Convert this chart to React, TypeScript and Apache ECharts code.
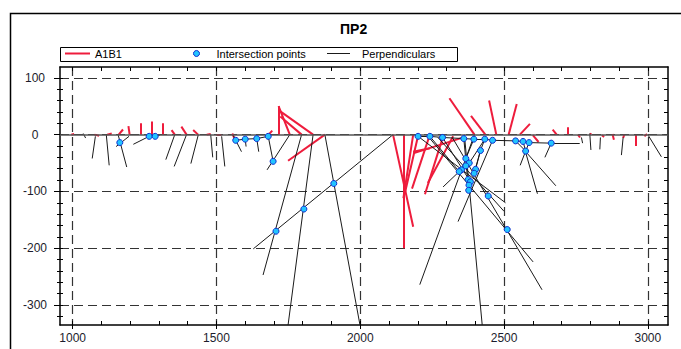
import React, { useEffect, useRef } from "react";
import * as echarts from "echarts";

const titleText = "ПР2";
const seriesNames = ["A1B1", "Intersection points", "Perpendiculars"];

const xMajorTicks = [1000, 1500, 2000, 2500, 3000];
const xMinorTicks = [1000, 1100, 1200, 1300, 1400, 1500, 1600, 1700, 1800, 1900, 2000, 2100, 2200, 2300, 2400, 2500, 2600, 2700, 2800, 2900, 3000];
const yMajorTicks = [-300, -200, -100, 0, 100];
const yMinorTicks = [-320, -300, -280, -260, -240, -220, -200, -180, -160, -140, -120, -100, -80, -60, -40, -20, 0, 20, 40, 60, 80, 100];

// A1B1 segments: [x1, y1, x2, y2]
const redSegments = [
  [995, 0, 1005, 1],
  [1076, 0, 1092, -2],
  [1120, 0, 1136, 2],
  [1160, 0, 1175, 9],
  [1198, 0, 1194, 15],
  [1237, 0, 1237, 20],
  [1274, 0, 1274, 23],
  [1312, 0, 1312, 20],
  [1355, 0, 1344, 8],
  [1396, 0, 1378, 14],
  [1436, 0, 1419, 8],
  [1466, 0, 1480, 1],
  [1500, -1, 1517, -1],
  [1555, 2, 1562, -6],
  [1676, -3, 1694, 7],
  [1716, 0, 1716, 50],
  [1716, 50, 1755, 0],
  [1716, 43, 1836, 0],
  [1722, 32, 1796, 0],
  [1749, -46, 1877, 0],
  [2114, 0, 2184, -162],
  [2150, 0, 2150, -200],
  [2184, 0, 2150, -112],
  [2201, -2, 2155, -103],
  [2242, 0, 2180, -95],
  [2290, 0, 2225, -105],
  [2323, -3, 2235, -85],
  [2184, -33, 2364, -4],
  [2184, -30, 2242, -24],
  [2310, 64, 2397, 0],
  [2385, 33, 2435, 0],
  [2448, 60, 2473, 0],
  [2544, 54, 2516, 0],
  [2590, 19, 2555, 0],
  [2600, -1, 2620, -13],
  [2669, 9, 2683, 0],
  [2720, 13, 2720, 0],
  [2757, 0, 2764, -5],
  [2798, 2, 2804, 0],
  [2840, -1, 2848, -4],
  [2877, 1, 2882, -9],
  [2918, 0, 2914, -6],
  [2957, 0, 2957, -20],
  [2988, -3, 2997, 1],
];

// Perpendicular segments: [x1, y1, x2, y2]
const blackSegments = [
  [1037, 2, 1045, -6],
  [1079, -3, 1068, -42],
  [1117, 0, 1127, -54],
  [1196, -3, 1151, -21],
  [1158, 0, 1188, -57],
  [1211, -17, 1266, -3],
  [1266, -3, 1303, -1],
  [1355, 0, 1324, -44],
  [1396, 0, 1353, -56],
  [1437, 0, 1411, -51],
  [1480, 0, 1487, -40],
  [1518, -3, 1529, -56],
  [1558, -1, 1587, -30],
  [1567, -10, 1600, -8],
  [1600, -8, 1640, -7],
  [1640, -7, 1680, -3],
  [1600, -8, 1603, -21],
  [1640, -7, 1647, -30],
  [1680, -3, 1697, -47],
  [1755, 0, 1676, -62],
  [1796, 0, 1662, -247],
  [1836, 0, 1749, -335],
  [1877, 0, 1999, -335],
  [2114, 0, 1628, -201],
  [2201, -3, 2242, -3],
  [2242, -3, 2286, -5],
  [2286, -5, 2360, -7],
  [2360, -7, 2395, -8],
  [2395, -8, 2433, -8],
  [2433, -8, 2460, -10],
  [2460, -10, 2540, -11],
  [2540, -11, 2566, -12],
  [2566, -12, 2587, -14],
  [2587, -14, 2664, -15],
  [2664, -15, 2763, -15],
  [2201, -3, 2505, -120],
  [2270, -5, 2500, -135],
  [2236, -3, 2601, -224],
  [2320, -5, 2632, -273],
  [2397, 0, 2207, -264],
  [2460, -10, 2340, -153],
  [2344, -65, 2288, -92],
  [2362, 0, 2424, -335],
  [2242, -3, 2344, -65],
  [2286, -5, 2383, -83],
  [2395, -8, 2367, -42],
  [2433, -8, 2379, -50],
  [2433, -8, 2418, -28],
  [2418, -28, 2396, -68],
  [2418, -28, 2401, -61],
  [2360, -7, 2377, -98],
  [2540, -11, 2575, -29],
  [2566, -12, 2575, -29],
  [2587, -14, 2575, -29],
  [2575, -29, 2556, -54],
  [2570, -27, 2680, -90],
  [2576, -33, 2616, -104],
  [2664, -15, 2642, -40],
  [2769, -5, 2773, -15],
  [2798, 2, 2802, -27],
  [2835, -5, 2833, -26],
  [2914, -5, 2908, -36],
  [3001, -1, 3047, -39],
];

const intersectionPoints = [
  [1164, -14], [1266, -3], [1287, -3], [1567, -10], [1600, -8], [1640, -7], [1680, -3],
  [1697, -47], [1707, -170], [1804, -131], [1908, -86],
  [2201, -3], [2242, -3], [2286, -5], [2360, -7], [2395, -8], [2433, -8], [2460, -10],
  [2418, -28], [2367, -42], [2379, -50], [2367, -55], [2401, -61], [2396, -68], [2352, -62],
  [2344, -65], [2375, -79], [2383, -83], [2378, -89], [2377, -98], [2445, -108], [2511, -167],
  [2540, -11], [2566, -12], [2587, -14], [2575, -29], [2664, -15],
];

const X_MIN = 956;
const X_MAX = 3070;
const Y_MIN = -335;
const Y_MAX = 119;

const RED = "#ee1c3c";
const BLACK = "#1a1a1a";
const FONT = "Liberation Sans, Arial, sans-serif";

export default function App() {
  const ref = useRef<HTMLDivElement>(null);
  useEffect(() => {
    if (!ref.current) return;
    const chart = echarts.init(ref.current, undefined, { renderer: "svg" });

    const baseX = { type: "value", min: X_MIN, max: X_MAX, gridIndex: 0 };
    const baseY = { type: "value", min: Y_MIN, max: Y_MAX, gridIndex: 0 };
    const noLabel = { show: false };
    const plain = (v: number) => String(v);

    const option: any = {
      animation: false,
      backgroundColor: "#fff",
      title: {
        text: titleText,
        left: 340,
        top: 22,
        padding: 0,
        textStyle: { fontSize: 14, fontWeight: "bold", fontFamily: FONT, color: "#000" },
      },
      legend: [
        {
          data: [{ name: seriesNames[0], icon: "path://M0,0 L25,0 L25,2 L0,2 Z", itemStyle: { color: RED, borderWidth: 0 } }],
          left: 65, top: 48, padding: 0, itemWidth: 25, itemHeight: 2,
          textStyle: { fontSize: 11, fontFamily: FONT, color: "#000" },
          selectedMode: false,
        },
        {
          data: [{ name: seriesNames[1], icon: "circle", itemStyle: { color: "#22c4ff", borderColor: "#1030d0", borderWidth: 1 } }],
          left: 193, top: 48, padding: 0, itemWidth: 30, itemHeight: 6,
          textStyle: { fontSize: 11, fontFamily: FONT, color: "#000" },
          selectedMode: false,
        },
        {
          data: [{ name: seriesNames[2], icon: "path://M0,0 L23,0 L23,1 L0,1 Z", itemStyle: { color: BLACK, borderWidth: 0 } }],
          left: 327, top: 48, padding: 0, itemWidth: 23, itemHeight: 1,
          textStyle: { fontSize: 11, fontFamily: FONT, color: "#000", padding: [0, 0, 0, 7] },
          selectedMode: false,
        },
      ],
      graphic: [
        { type: "rect", shape: { x: 10.5, y: 13.5, width: 720, height: 420 }, style: { fill: "none", stroke: "#000", lineWidth: 1.5 }, silent: true },
        { type: "rect", shape: { x: 60.5, y: 47.5, width: 397, height: 14 }, style: { fill: "none", stroke: "#000", lineWidth: 1 }, silent: true },
      ],
      grid: { left: 60, right: 13, top: 67, bottom: 24, containLabel: false },
      xAxis: [
        {
          ...baseX, position: "bottom",
          axisLine: { show: true, onZero: false, lineStyle: { color: "#000", width: 1.5 } },
          axisTick: { show: true, inside: false, length: 4, customValues: xMajorTicks, lineStyle: { color: "#000" } },
          axisLabel: { show: true, customValues: xMajorTicks, formatter: plain, fontSize: 12, fontFamily: FONT, color: "#1c1c2c", margin: 7 },
          splitLine: { show: true, lineStyle: { color: "#333", type: [9, 5], width: 1.2 } },
        },
        {
          ...baseX, position: "bottom",
          axisLine: { show: false, onZero: false },
          axisTick: { show: true, inside: true, length: 4, customValues: xMinorTicks, lineStyle: { color: "#000" } },
          axisLabel: noLabel, splitLine: { show: false },
        },
        {
          ...baseX, position: "top",
          axisLine: { show: true, onZero: false, lineStyle: { color: "#000", width: 1.5 } },
          axisTick: { show: true, inside: true, length: 4, customValues: xMinorTicks, lineStyle: { color: "#000" } },
          axisLabel: noLabel, splitLine: { show: false },
        },
      ],
      yAxis: [
        {
          ...baseY, position: "left",
          axisLine: { show: true, onZero: false, lineStyle: { color: "#000", width: 1.5 } },
          axisTick: { show: true, inside: false, length: 6, customValues: yMajorTicks, lineStyle: { color: "#000" } },
          axisLabel: { show: true, customValues: yMajorTicks, formatter: plain, fontSize: 12, fontFamily: FONT, color: "#1c1c2c", margin: 25, align: "center" },
          splitLine: { show: true, lineStyle: { color: "#333", type: [9, 5], width: 1.2 } },
        },
        {
          ...baseY, position: "left",
          axisLine: { show: false, onZero: false },
          axisTick: { show: true, inside: true, length: 3, customValues: yMinorTicks, lineStyle: { color: "#000" } },
          axisLabel: noLabel, splitLine: { show: false },
        },
        {
          ...baseY, position: "left",
          axisLine: { show: false, onZero: false },
          axisTick: { show: true, inside: false, length: 3, customValues: yMinorTicks, lineStyle: { color: "#000" } },
          axisLabel: noLabel, splitLine: { show: false },
        },
        {
          ...baseY, position: "right",
          axisLine: { show: true, onZero: false, lineStyle: { color: "#000", width: 1.5 } },
          axisTick: { show: true, inside: true, length: 4, customValues: yMinorTicks, lineStyle: { color: "#000" } },
          axisLabel: noLabel, splitLine: { show: false },
        },
      ],
      series: [
        {
          type: "line",
          name: "profile",
          xAxisIndex: 0,
          yAxisIndex: 0,
          data: [],
          silent: true,
          z: 1,
          markLine: {
            silent: true,
            symbol: ["none", "none"],
            label: { show: false },
            lineStyle: { color: "#555", type: "solid", width: 1.5 },
            data: [{ yAxis: 0 }],
          },
        },
        {
          type: "lines",
          name: seriesNames[0],
          coordinateSystem: "cartesian2d",
          xAxisIndex: 0,
          yAxisIndex: 0,
          polyline: false,
          silent: true,
          z: 2,
          lineStyle: { color: RED, width: 2, opacity: 1 },
          data: redSegments.map((s) => ({ coords: [[s[0], s[1]], [s[2], s[3]]] })),
        },
        {
          type: "lines",
          name: seriesNames[2],
          coordinateSystem: "cartesian2d",
          xAxisIndex: 0,
          yAxisIndex: 0,
          polyline: false,
          silent: true,
          z: 3,
          lineStyle: { color: BLACK, width: 1, opacity: 1 },
          data: blackSegments.map((s) => ({ coords: [[s[0], s[1]], [s[2], s[3]]] })),
        },
        {
          type: "scatter",
          name: seriesNames[1],
          xAxisIndex: 0,
          yAxisIndex: 0,
          symbol: "circle",
          symbolSize: 6,
          silent: true,
          z: 5,
          itemStyle: { color: "#22c4ff", borderColor: "#1030d0", borderWidth: 1, opacity: 1 },
          data: intersectionPoints,
        },
      ],
    };

    chart.setOption(option);
    return () => chart.dispose();
  }, []);

  return (
    <div
      ref={ref}
      style={{ position: "fixed", left: 0, top: 0, width: 681, height: 349, background: "#fff" }}
    />
  );
}
